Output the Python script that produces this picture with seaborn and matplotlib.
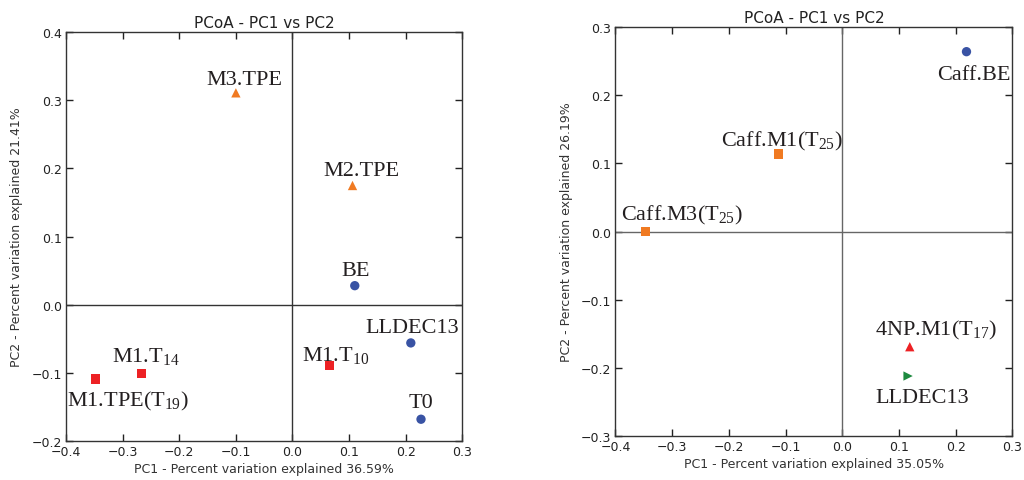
import matplotlib
matplotlib.use("Agg")
import matplotlib.pyplot as plt
import seaborn as sns
import pandas as pd

# left panel
left_names = ["M3.TPE", "M2.TPE", "BE", "LLDEC13", "T0", "M1.T10", "M1.T14", "M1.TPE(T19)"]
left_labels = ["M3.TPE", "M2.TPE", "BE", "LLDEC13", "T0",
               r"M1.T$\mathregular{_{10}}$", r"M1.T$\mathregular{_{14}}$", r"M1.TPE(T$\mathregular{_{19}}$)"]
left_pc1 = [-0.100, 0.106, 0.110, 0.209, 0.227, 0.065, -0.267, -0.348]
left_pc2 = [0.311, 0.175, 0.028, -0.056, -0.168, -0.089, -0.101, -0.109]
left_group = ["TPE", "TPE", "ref", "ref", "ref", "M1", "M1", "M1"]

# right panel
right_names = ["Caff.BE", "Caff.M1(T25)", "Caff.M3(T25)", "4NP.M1(T17)", "LLDEC13"]
right_labels = ["Caff.BE", r"Caff.M1(T$\mathregular{_{25}}$)", r"Caff.M3(T$\mathregular{_{25}}$)",
                r"4NP.M1(T$\mathregular{_{17}}$)", "LLDEC13"]
right_pc1 = [0.219, -0.112, -0.347, 0.119, 0.116]
right_pc2 = [0.264, 0.114, 0.000, -0.169, -0.212]
right_group = ["ref", "Caff", "Caff", "4NP", "LL"]

palette = {"TPE": "#f07a22", "ref": "#3953a4", "M1": "#ed2124",
           "Caff": "#f07a22", "4NP": "#ed2124", "LL": "#1d8a3f"}
markers = {"TPE": "^", "ref": "o", "M1": "s", "Caff": "s", "4NP": "^", "LL": ">"}

# label offsets in pixels (dx, dy) relative to each point
left_off = [(8, 9), (9, 11), (1, 11), (1, 11), (0, 12), (6, 5), (4, 13), (32, -26)]
right_off = [(7, -27), (3, 8), (36, 12), (26, 12), (14, -26)]

sns.set_style("ticks")
plt.rcParams["font.family"] = ["DejaVu Sans"]
plt.rcParams["mathtext.fontset"] = "custom"
plt.rcParams["mathtext.rm"] = "Liberation Serif"

fig = plt.figure(figsize=(10.24, 4.81), dpi=100)
ax1 = fig.add_axes([0.0645, 0.081, 0.387, 0.850])
ax2 = fig.add_axes([0.601, 0.0915, 0.3877, 0.850])


def draw(ax, pc1, pc2, group, labels, offs, xlab, ylab, ylim, yticks, zero_col):
    df = pd.DataFrame({"pc1": pc1, "pc2": pc2, "group": group})
    ax.axhline(0, color=zero_col, lw=1.0, zorder=1)
    ax.axvline(0, color=zero_col, lw=1.0, zorder=1)
    sns.scatterplot(data=df, x="pc1", y="pc2", hue="group", style="group",
                    palette=palette, markers=markers, s=45, edgecolor="none",
                    legend=False, ax=ax, zorder=3)
    for x, y, lab, (dx, dy) in zip(pc1, pc2, labels, offs):
        ax.annotate(lab, (x, y), xytext=(dx, dy), textcoords="offset pixels",
                    ha="center", va="baseline", fontsize=16,
                    family="Liberation Serif", color="#231f20")
    ax.set_xlim(-0.4, 0.3)
    ax.set_ylim(*ylim)
    ax.set_xticks([-0.4, -0.3, -0.2, -0.1, 0.0, 0.1, 0.2, 0.3])
    ax.set_yticks(yticks)
    ax.set_xticklabels([f"{v:.1f}".replace("-", "\u2212") for v in ax.get_xticks()])
    ax.set_yticklabels([f"{v:.1f}".replace("-", "\u2212") for v in yticks])
    ax.tick_params(direction="in", top=True, right=True, length=5, width=1,
                   labelsize=9, colors="#222222", pad=3)
    for sp in ax.spines.values():
        sp.set_linewidth(1)
        sp.set_color("#333333")
    ax.set_xlabel(xlab, fontsize=9, color="#333333", labelpad=3)
    ax.set_ylabel(ylab, fontsize=9, color="#333333", labelpad=6)
    ax.set_title("PCoA - PC1 vs PC2", fontsize=11, color="#222222", pad=4)


draw(ax1, left_pc1, left_pc2, left_group, left_labels, left_off,
     "PC1 - Percent variation explained 36.59%",
     "PC2 - Percent variation explained 21.41%",
     (-0.2, 0.4), [-0.2, -0.1, 0.0, 0.1, 0.2, 0.3, 0.4], "#333333")
draw(ax2, right_pc1, right_pc2, right_group, right_labels, right_off,
     "PC1 - Percent variation explained 35.05%",
     "PC2 - Percent variation explained 26.19%",
     (-0.3, 0.3), [-0.3, -0.2, -0.1, 0.0, 0.1, 0.2, 0.3], "#666666")

fig.savefig("out.png", dpi=100)
